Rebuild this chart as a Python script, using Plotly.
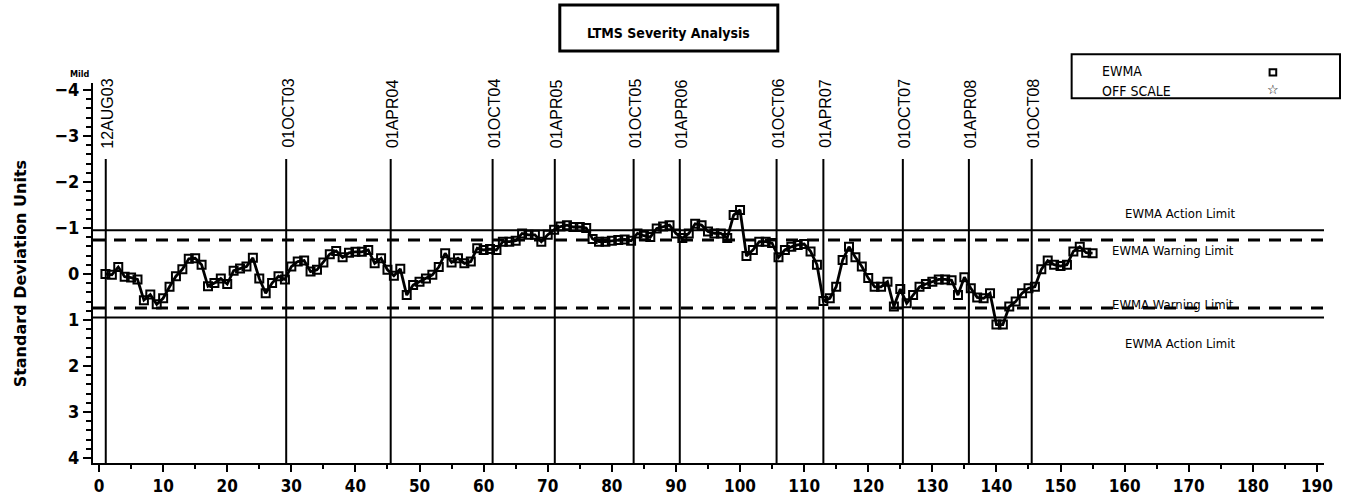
import plotly.graph_objects as go

# ---------------- data ----------------
test_no = list(range(1, 156))
ewma = [
    0.00, 0.02, -0.15, 0.06, 0.08, 0.12, 0.57, 0.45, 0.66, 0.53,
    0.28, 0.05, -0.10, -0.33, -0.34, -0.20, 0.27, 0.20, 0.10, 0.22,
    -0.07, -0.12, -0.16, -0.35, 0.10, 0.42, 0.20, 0.05, 0.12, -0.16,
    -0.27, -0.29, -0.05, -0.09, -0.25, -0.43, -0.50, -0.36, -0.46, -0.48,
    -0.48, -0.52, -0.23, -0.34, -0.09, 0.04, -0.11, 0.46, 0.24, 0.17,
    0.10, 0.02, -0.15, -0.45, -0.25, -0.34, -0.23, -0.27, -0.56, -0.52,
    -0.54, -0.52, -0.70, -0.70, -0.72, -0.88, -0.85, -0.85, -0.70, -0.85,
    -0.96, -1.03, -1.06, -1.02, -1.02, -1.00, -0.76, -0.70, -0.70, -0.72,
    -0.74, -0.75, -0.72, -0.88, -0.83, -0.80, -0.99, -1.03, -1.06, -0.88,
    -0.78, -0.88, -1.09, -1.06, -0.92, -0.88, -0.88, -0.78, -1.28, -1.39,
    -0.39, -0.52, -0.70, -0.70, -0.67, -0.36, -0.52, -0.59, -0.63, -0.65,
    -0.49, -0.20, 0.59, 0.53, 0.28, -0.30, -0.59, -0.36, -0.16, 0.09,
    0.28, 0.28, 0.17, 0.71, 0.33, 0.64, 0.46, 0.28, 0.22, 0.17,
    0.12, 0.12, 0.14, 0.46, 0.07, 0.31, 0.51, 0.53, 0.42, 1.10,
    1.10, 0.71, 0.60, 0.42, 0.31, 0.28, -0.10, -0.29, -0.20, -0.17,
    -0.20, -0.49, -0.59, -0.46, -0.45,
]

date_labels = ["12AUG03", "01OCT03", "01APR04", "01OCT04", "01APR05", "01OCT05",
               "01APR06", "01OCT06", "01APR07", "01OCT07", "01APR08", "01OCT08"]
date_pos = [1.05, 29.2, 45.5, 61.4, 71.1, 83.4, 90.6, 105.7, 113.0, 125.4, 135.7, 145.5]

action_limit = 0.95
warning_limit = 0.74
limit_names = ["EWMA Action Limit", "EWMA Warning Limit", "EWMA Warning Limit", "EWMA Action Limit"]

x_ticks = list(range(0, 200, 10))
y_ticks = [-4, -3, -2, -1, 0, 1, 2, 3, 4]

title_text = "LTMS Severity Analysis"
y_title = "Standard Deviation Units"
legend_items = ["EWMA", "OFF SCALE"]

# ---------------- styling ----------------
NARROW = "Liberation Sans Narrow, DejaVu Sans Condensed, Arial Narrow, sans-serif"
SANS = "Liberation Sans, Arial, sans-serif"
X_RANGE = [-0.94, 191.1]
Y_RANGE = [4.11, -4.15]


def nfont(size, bold=False):
    return dict(family=NARROW, size=size, color="black",
                weight="bold" if bold else "normal")


fig = go.Figure()

fig.add_trace(go.Scatter(
    x=test_no, y=ewma, mode="lines+markers",
    line=dict(color="black", width=2.8),
    marker=dict(symbol="square-open", size=8, color="black",
                line=dict(color="black", width=2)),
    showlegend=False, cliponaxis=False,
))

shapes = []
for val, dash, w in [(-action_limit, "solid", 2), (action_limit, "solid", 2),
                     (-warning_limit, "12px,9px", 3), (warning_limit, "12px,9px", 3)]:
    shapes.append(dict(type="line", xref="paper", yref="y", x0=0, x1=1, y0=val, y1=val,
                       line=dict(color="black", width=w, dash=dash), layer="below"))
for p in date_pos:
    shapes.append(dict(type="line", xref="x", yref="y", x0=p, x1=p, y0=-2.5, y1=Y_RANGE[0],
                       line=dict(color="black", width=2), layer="below"))

# title box
shapes.append(dict(type="rect", xref="paper", yref="paper", x0=0.3792, x1=0.5563,
                   y0=1.084, y1=1.2053, line=dict(color="black", width=3)))
# legend box
shapes.append(dict(type="rect", xref="paper", yref="paper", x0=0.795, x1=1.013,
                   y0=0.9597, y1=1.0755, line=dict(color="black", width=2)))
# legend square symbol
shapes.append(dict(type="rect", xref="paper", yref="paper", x0=0.9558, x1=0.9612,
                   y0=1.020, y1=1.036, line=dict(color="black", width=2)))

annotations = []
annotations.append(dict(text="<b>" + title_text + "</b>", xref="paper", yref="paper",
                        x=0.4674, y=1.1316, xanchor="center", yanchor="middle", showarrow=False,
                        font=dict(family="DejaVu Sans Condensed, DejaVu Sans", size=14, color="black")))
annotations.append(dict(text="<b>" + y_title + "</b>", xref="paper", yref="paper",
                        x=-0.059, y=0.5, xanchor="center", yanchor="middle",
                        textangle=-90, showarrow=False,
                        font=dict(family="DejaVu Sans", size=16, color="black")))
annotations.append(dict(text="<b>Mild</b>", xref="paper", yref="paper",
                        x=-0.0108, y=1.024, xanchor="center", yanchor="middle",
                        showarrow=False, font=nfont(9)))
annotations.append(dict(text=legend_items[0], xref="paper", yref="paper",
                        x=0.818, y=1.0316, xanchor="left", yanchor="middle",
                        showarrow=False, font=nfont(14)))
annotations.append(dict(text=legend_items[1], xref="paper", yref="paper",
                        x=0.818, y=0.979, xanchor="left", yanchor="middle",
                        showarrow=False, font=nfont(14)))
annotations.append(dict(text="<b>☆</b>", xref="paper", yref="paper",
                        x=0.9585, y=0.9816, xanchor="center", yanchor="middle",
                        showarrow=False,
                        font=dict(family="DejaVu Sans", size=13, color="black")))

for lbl, p in zip(date_labels, date_pos):
    annotations.append(dict(text=lbl, xref="x", yref="paper", x=p, y=1.016,
                            xanchor="center", yanchor="top", xshift=2,
                            textangle=-90, showarrow=False,
                            font=dict(family=SANS, size=16, color="black")))

lim_vals = [-action_limit, -warning_limit, warning_limit, action_limit]
lim_shift = [17, -11, 3, -26]
lim_x = [0.883, 0.877, 0.877, 0.883]
for name, v, s, xx in zip(limit_names, lim_vals, lim_shift, lim_x):
    annotations.append(dict(text=name, xref="paper", yref="y", x=xx, y=v, yshift=s,
                            xanchor="center", yanchor="middle",
                            showarrow=False, font=nfont(13)))

fig.update_layout(
    width=1352, height=499,
    margin=dict(l=93, r=28, t=83, b=36, autoexpand=False),
    paper_bgcolor="white", plot_bgcolor="white",
    shapes=shapes, annotations=annotations,
    showlegend=False,
    xaxis=dict(range=X_RANGE, tickvals=x_ticks, showgrid=False, zeroline=False,
               automargin=False,
               showline=True, linecolor="black", linewidth=2,
               ticks="outside", ticklen=7, tickwidth=2, tickcolor="black",
               minor=dict(dtick=5, tick0=0, ticks="outside", ticklen=4, tickwidth=2, tickcolor="black"),
               tickfont=nfont(17, True)),
    yaxis=dict(range=Y_RANGE, tickvals=y_ticks, showgrid=False, zeroline=False,
               automargin=False,
               showline=True, linecolor="black", linewidth=2,
               ticks="outside", ticklen=8, tickwidth=2, tickcolor="black",
               minor=dict(dtick=0.2, tick0=0, ticks="outside", ticklen=5, tickwidth=1.5, tickcolor="black"),
               tickfont=nfont(18, True)),
)

fig.write_html("out.html")
